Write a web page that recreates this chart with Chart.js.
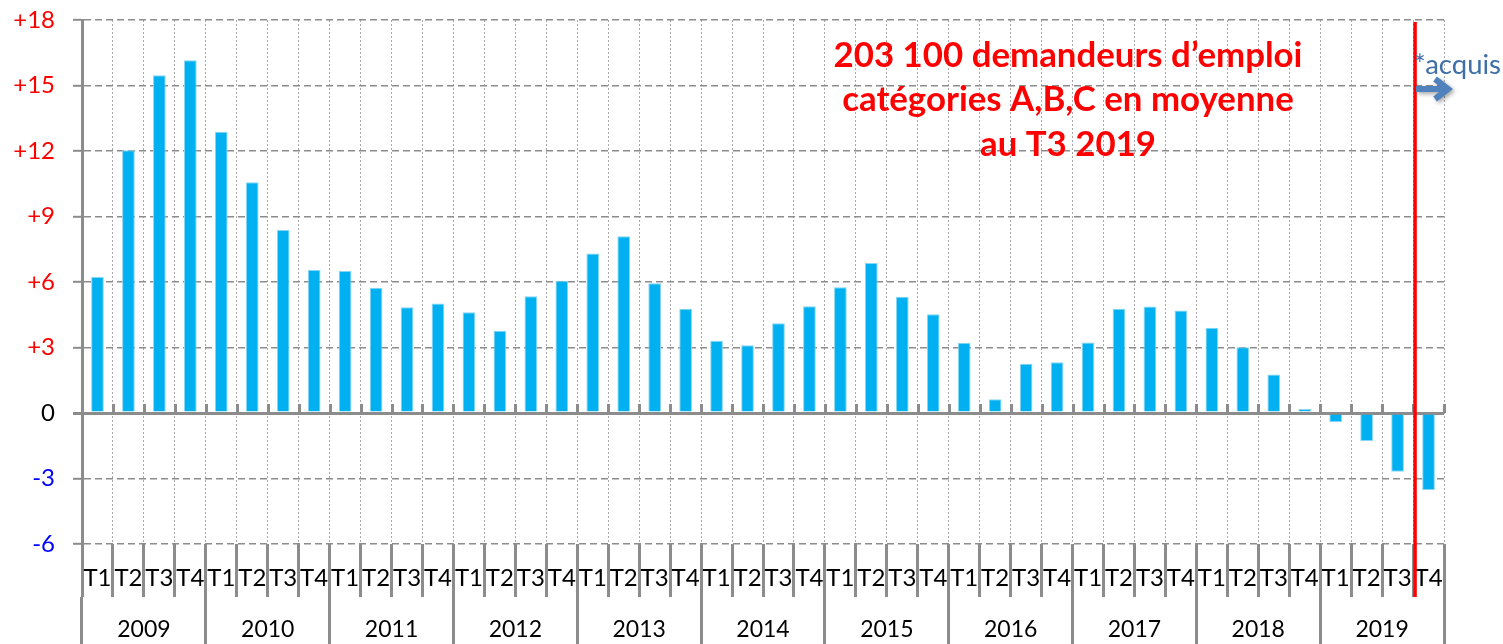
<!DOCTYPE html>
<html>
<head>
<meta charset="utf-8">
<script src="https://cdn.jsdelivr.net/npm/chart.js@4/dist/chart.umd.min.js"></script>
<style>
html,body{margin:0;padding:0;background:#fff;overflow:hidden}
canvas{display:block}
</style>
</head>
<body>
<canvas id="c" width="1503" height="644"></canvas>
<script>
// ---- DATA ----
const years = ['2009','2010','2011','2012','2013','2014','2015','2016','2017','2018','2019'];
const quarters = ['T1','T2','T3','T4'];
const quarterLabels = years.flatMap(() => quarters);
const values = [
  6.23, 12.04, 15.47, 16.16,
  12.88, 10.57, 8.38, 6.55,
  6.50, 5.74, 4.84, 5.01,
  4.61, 3.77, 5.35, 6.06,
  7.30, 8.09, 5.94, 4.78,
  3.31, 3.10, 4.11, 4.89,
  5.76, 6.87, 5.33, 4.52,
  3.22, 0.63, 2.26, 2.32,
  3.23, 4.77, 4.88, 4.69,
  3.90, 3.01, 1.76, 0.18,
  -0.41, -1.28, -2.69, -3.53
];
const yMin = -6, yMax = 18, yStep = 3;
const titleLines = ['203 100 demandeurs d\u2019emploi', 'cat\u00e9gories A,B,C en moyenne', 'au T3 2019'];
const noteText = '*acquis';
const markerAfterIndex = 42; // red line between 2019 T3 and T4

// ---- STYLE ----
const GRAY = '#8c8c8c';
const FONT = 'Lato, "Open Sans", sans-serif';

const decorPlugin = {
  id: 'decor',
  beforeDatasetsDraw(chart) {
    const {ctx} = chart;
    const xs = chart.scales.x, ys = chart.scales.y;
    const half = (xs.getPixelForValue(1) - xs.getPixelForValue(0)) / 2;
    const y0 = ys.getPixelForValue(0);
    ctx.save();
    ctx.strokeStyle = GRAY;
    ctx.lineWidth = 3;
    for (let i = 0; i <= quarterLabels.length; i++) {
      const bx = Math.round(xs.getPixelForValue(i) - half) + 0.5;
      ctx.beginPath();
      ctx.moveTo(bx, y0 - 9);
      ctx.lineTo(bx, y0);
      ctx.stroke();
    }
    ctx.restore();
  },
  afterDraw(chart) {
    const {ctx, chartArea} = chart;
    const xs = chart.scales.x;
    const half = (xs.getPixelForValue(1) - xs.getPixelForValue(0)) / 2;
    const lx = xs.getPixelForValue(markerAfterIndex) + half + 2;
    ctx.save();
    // red vertical line
    ctx.strokeStyle = '#ff0000';
    ctx.lineWidth = 3.5;
    ctx.beginPath();
    ctx.moveTo(lx, chartArea.top + 2);
    ctx.lineTo(lx, chart.scales.x.bottom);
    ctx.stroke();

    // title text
    ctx.fillStyle = '#ff0000';
    ctx.textAlign = 'center';
    ctx.textBaseline = 'alphabetic';
    let fs = 30;
    ctx.font = 'bold ' + fs + 'px ' + FONT;
    const w = ctx.measureText(titleLines[0]).width;
    fs = fs * 469 / w;
    ctx.font = 'bold ' + fs.toFixed(2) + 'px ' + FONT;
    const cx = 1068;
    const baselines = [67, 111, 156];
    titleLines.forEach((t, i) => ctx.fillText(t, cx, baselines[i]));

    // note text
    ctx.fillStyle = '#3f6fa8';
    ctx.textAlign = 'left';
    let ns = 24;
    ctx.font = ns + 'px ' + FONT;
    ns = ns * 87 / ctx.measureText(noteText).width;
    ctx.font = ns.toFixed(2) + 'px ' + FONT;
    ctx.fillText(noteText, lx - 1, 74);

    // arrow
    ctx.shadowColor = 'rgba(0,0,0,0.35)';
    ctx.shadowBlur = 4;
    ctx.shadowOffsetX = 2;
    ctx.shadowOffsetY = 2;
    ctx.strokeStyle = '#4f81bd';
    ctx.lineWidth = 6;
    ctx.lineCap = 'butt';
    ctx.lineJoin = 'miter';
    ctx.beginPath();
    ctx.moveTo(lx + 1, 89);
    ctx.lineTo(lx + 30, 89);
    ctx.moveTo(lx + 20, 79);
    ctx.lineTo(lx + 33, 89);
    ctx.lineTo(lx + 20, 99);
    ctx.stroke();
    ctx.restore();
  }
};

new Chart(document.getElementById('c'), {
  type: 'bar',
  data: {
    labels: quarterLabels,
    datasets: [{
      data: values,
      backgroundColor: '#00b0f0',
      borderColor: '#86d6f4',
      borderWidth: 1,
      categoryPercentage: 1,
      barPercentage: 0.41
    }]
  },
  plugins: [decorPlugin],
  options: {
    responsive: false,
    animation: false,
    devicePixelRatio: 1,
    layout: { padding: { top: 20, right: 59, bottom: 0, left: 0 } },
    plugins: { legend: { display: false }, tooltip: { enabled: false }, title: { display: false } },
    scales: {
      x: {
        type: 'category',
        position: 'bottom',
        offset: true,
        afterFit(s) { s.height = 53; s.paddingLeft = 0; s.paddingRight = 0; },
        grid: {
          offset: true,
          color: '#a6a6a6',
          lineWidth: 1,
          drawOnChartArea: true,
          drawTicks: true,
          tickLength: 53,
          tickWidth: 3,
          tickColor: GRAY
        },
        border: { display: false, dash: [2, 2] },
        ticks: {
          autoSkip: false,
          maxRotation: 0,
          minRotation: 0,
          padding: -33,
          color: '#000',
          font: { family: FONT, size: 24 }
        }
      },
      x2: {
        type: 'category',
        position: 'bottom',
        labels: years,
        offset: true,
        afterFit(s) { s.height = 47; s.paddingLeft = 0; s.paddingRight = 0; },
        grid: {
          offset: true,
          drawOnChartArea: false,
          drawTicks: true,
          tickLength: 47,
          tickWidth: 3,
          tickColor: GRAY
        },
        border: { display: false },
        ticks: {
          autoSkip: false,
          maxRotation: 0,
          minRotation: 0,
          padding: -28,
          color: '#000',
          font: { family: FONT, size: 23 }
        }
      },
      y: {
        min: yMin,
        max: yMax,
        afterFit(s) { s.width = 82; s.paddingTop = 0; s.paddingBottom = 0; },
        grid: {
          color: GRAY,
          lineWidth: (c) => (c.tick && c.tick.value === 0 ? 3 : 1.6),
          tickLength: 9,
          tickColor: GRAY,
          tickWidth: (c) => (c.tick && c.tick.value === 0 ? 3 : 2)
        },
        border: {
          display: true,
          color: GRAY,
          width: 3,
          dash: (c) => (c.tick && c.tick.value === 0 ? [] : [7, 4])
        },
        ticks: {
          stepSize: yStep,
          padding: 18,
          color: (c) => (c.tick.value > 0 ? '#ff0000' : (c.tick.value < 0 ? '#0000ff' : '#000000')),
          font: { family: FONT, size: 24 },
          callback: (v) => (v > 0 ? '+' + v : String(v))
        }
      }
    }
  }
});
</script>
</body>
</html>
